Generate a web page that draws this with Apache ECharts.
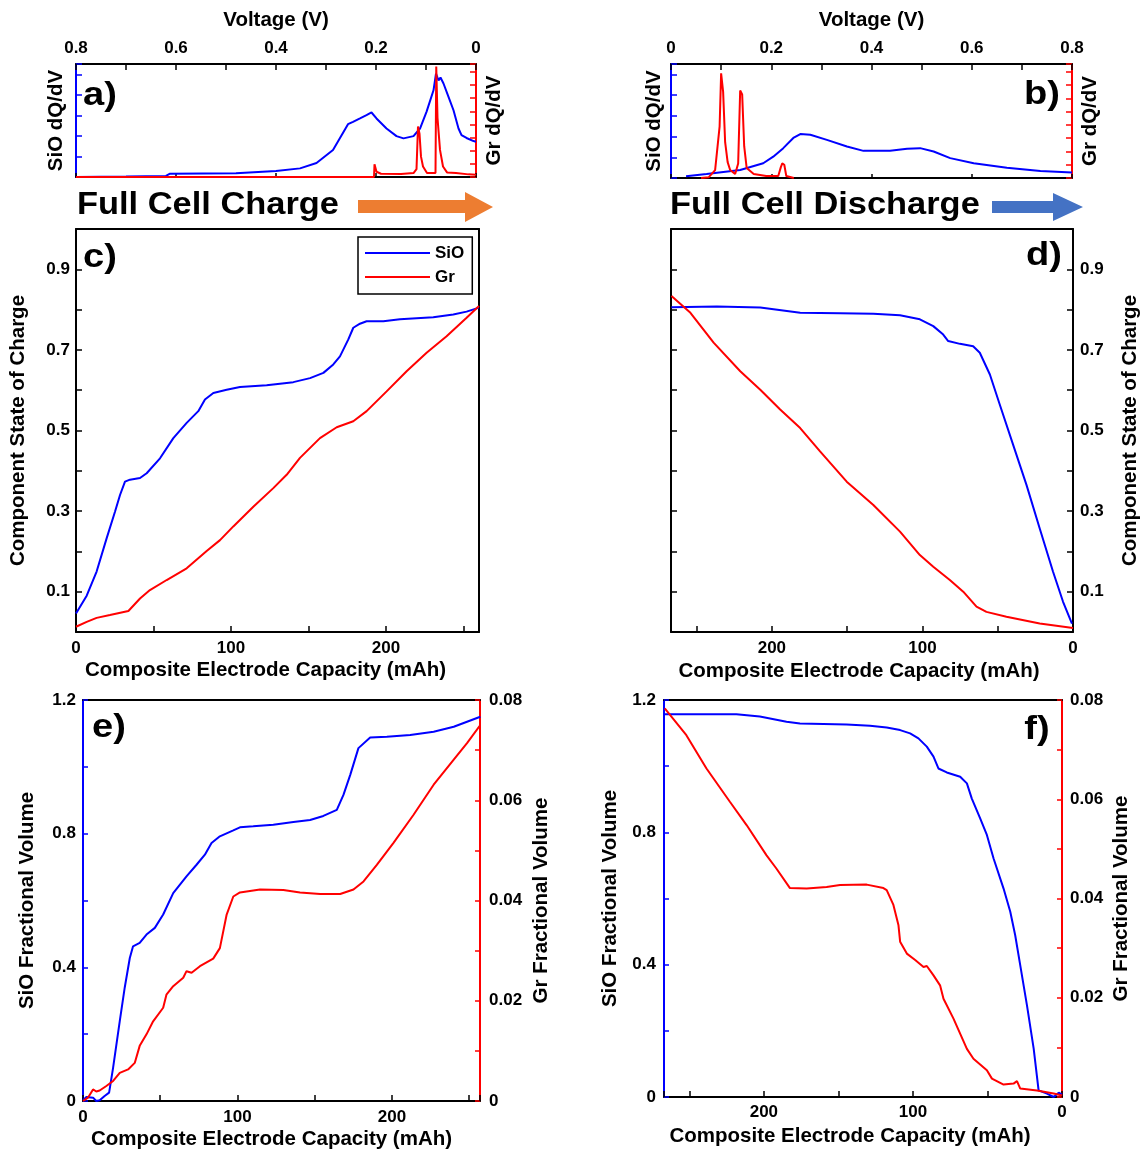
<!DOCTYPE html>
<html><head><meta charset="utf-8">
<script src="https://cdn.jsdelivr.net/npm/echarts/dist/echarts.min.js"></script>
<style>html,body{margin:0;padding:0;background:#fff}#chart{width:1142px;height:1151px}</style>
</head><body><div id="chart"></div>
<script>
// ---------- DATA ----------
// a) Full cell charge dQ/dV vs voltage
const chargeSioV   = [0.8,0.7,0.62,0.612,0.48,0.479,0.4,0.352,0.319,0.286,0.256,0.246,0.232,0.219,0.209,0.199,0.179,0.159,0.145,0.125,0.112,0.099,0.085,0.08,0.075,0.071,0.065,0.055,0.045,0.035,0.029,0.019,0.005,0];
const chargeSioDq  = [0,0.02,0.05,0.16,0.18,0.23,0.29,0.42,0.68,1.31,2.57,2.68,2.85,3.01,3.14,2.85,2.36,1.99,1.88,1.99,2.36,3.17,4.22,5.03,4.7,4.84,4.55,3.9,3.25,2.36,2.04,1.9,1.75,1.72];
const chargeGrV    = [0.8,0.204,0.203,0.199,0.19,0.15,0.125,0.119,0.116,0.113,0.11,0.106,0.098,0.081,0.0795,0.077,0.072,0.066,0.058,0.04,0.015,0];
const chargeGrDq   = [0,0,0.97,0.4,0.25,0.22,0.3,0.6,3.84,3.3,1.55,0.8,0.3,0.3,8.4,4.5,2.06,0.8,0.35,0.3,0.2,0.18];
// b) Full cell discharge dQ/dV vs voltage
const dischSioV    = [0.03,0.071,0.138,0.184,0.204,0.224,0.244,0.258,0.278,0.311,0.351,0.384,0.437,0.471,0.497,0.524,0.557,0.604,0.67,0.737,0.8];
const dischSioDq   = [0.08,0.19,0.39,0.71,1.03,1.44,1.93,2.12,2.09,1.84,1.52,1.31,1.31,1.41,1.44,1.28,0.96,0.71,0.5,0.34,0.26];
const dischGrV     = [0.06,0.075,0.088,0.097,0.1,0.104,0.108,0.113,0.118,0.128,0.134,0.138,0.142,0.146,0.151,0.165,0.19,0.214,0.219,0.222,0.226,0.23,0.245];
const dischGrDq    = [0,0.05,0.6,3.9,7.9,6.5,2.7,1.2,0.6,0.3,1.1,6.6,6.3,2.4,0.75,0.3,0.15,0.15,0.8,1.1,1.0,0.15,0];
// c) charge component SOC vs capacity
const cSioCap = [0,6.9,13.3,19.8,25.2,28.4,31.6,34.8,41.3,45.6,54.2,62.8,71.4,78.9,83.2,88.6,97.2,105.8,123,140.2,151,159.6,166,170.3,175.7,178.9,183.2,187.5,198.3,209,230.5,243.4,252,260];
const cSioSoc = [0.046,0.09,0.15,0.233,0.299,0.34,0.373,0.378,0.382,0.394,0.431,0.481,0.519,0.548,0.577,0.593,0.601,0.608,0.612,0.62,0.63,0.643,0.664,0.684,0.726,0.755,0.765,0.771,0.771,0.776,0.781,0.788,0.795,0.805];
const cGrCap  = [0,6.9,13.3,21.9,33.8,41.3,47.7,58.5,71.4,84.3,92.9,101.5,114.4,127.3,135.9,144.5,157.4,168.2,178.9,187.5,200.4,213.3,226.2,239.1,252,260];
const cGrSoc  = [0.013,0.025,0.035,0.042,0.052,0.083,0.104,0.129,0.158,0.201,0.228,0.262,0.311,0.357,0.39,0.432,0.481,0.508,0.523,0.548,0.597,0.647,0.693,0.734,0.78,0.809];
// d) discharge component SOC vs capacity
const dSioCap = [266.7,236.5,207.7,181.2,154.7,132.6,114.9,101.7,92.8,86.2,82.9,75.1,66.3,61.9,55.2,48.6,39.8,30.9,22.1,13.3,6.6,0.7];
const dSioSoc = [0.806,0.808,0.805,0.792,0.791,0.79,0.786,0.776,0.759,0.738,0.722,0.715,0.709,0.693,0.639,0.564,0.465,0.365,0.257,0.15,0.075,0.021];
const dGrCap  = [266.7,254.1,238.7,221,207.7,194.5,181.2,168,150.3,132.6,114.9,101.7,92.8,81.8,72.9,64.1,57.5,44.2,22.1,0];
const dGrSoc  = [0.834,0.792,0.718,0.647,0.601,0.552,0.506,0.448,0.373,0.315,0.249,0.191,0.162,0.129,0.1,0.063,0.05,0.038,0.021,0.01];
// e) charge fractional volume
const eSioCap = [0,2.2,6.5,8.6,10.8,14,16.9,19.5,23.8,27,30.3,32.4,36.7,41.1,46.5,51.9,58.4,67,73.5,78.9,83.2,88.6,97.3,101.6,110.2,123.2,136.2,147,155.6,164.3,168.6,173,178.3,185.9,196.7,211.8,227,240,248.6,257.2];
const eSioVol = [0.002,0.012,0.01,0,0.002,0.015,0.025,0.1,0.239,0.339,0.428,0.463,0.473,0.498,0.518,0.558,0.622,0.672,0.707,0.737,0.772,0.792,0.81,0.819,0.822,0.827,0.835,0.841,0.853,0.871,0.916,0.976,1.056,1.088,1.09,1.095,1.105,1.12,1.135,1.15];
const eGrCap  = [0,3.2,6.5,8.6,10.8,15.1,19.5,23.8,29.2,33.5,36.7,41.1,45.4,51.9,54,58.4,64.9,67,70.3,75.7,84.3,88.6,93,97.3,101.6,114.6,129.7,140.5,153.5,166.5,175.1,181.6,190.2,201,214,227,240,248.6,257.2];
const eGrVol  = [0,0.00066,0.0023,0.0019,0.0021,0.003,0.004,0.0056,0.0063,0.0076,0.011,0.0133,0.0159,0.0186,0.0212,0.0229,0.0246,0.0259,0.0256,0.0269,0.0284,0.0305,0.0372,0.0408,0.0416,0.0422,0.0421,0.0416,0.0413,0.0413,0.0422,0.0438,0.0471,0.0515,0.0571,0.0631,0.0681,0.0714,0.075];
// f) discharge fractional volume
const fSioCap = [266.5,218.4,202.7,184.8,175.8,144.5,128.8,117.6,108.6,101.9,96.3,90.7,86.2,82.9,77.3,68.3,63.8,60.5,54.9,50.4,45.9,39.2,34.7,31.4,28,23.5,19,15.7,10.1,5.6,2.2,0];
const fSioVol = [1.157,1.157,1.15,1.134,1.129,1.126,1.122,1.117,1.109,1.099,1.084,1.059,1.029,0.993,0.981,0.968,0.948,0.902,0.842,0.792,0.721,0.63,0.56,0.489,0.398,0.277,0.146,0.02,0.01,0,0.013,0.007];
const fGrCap  = [266.5,252,238.5,222.8,211.6,198.2,191.5,182.5,171.3,157.9,148.9,131,119.8,117.6,113.1,109.7,108.6,104.1,98.5,92.9,90.7,86.2,81.8,79.5,72.8,63.8,59.4,50.4,47,39.2,32.5,30.2,28,16.8,5.6,0];
const fGrVol  = [0.0783,0.0729,0.0662,0.0595,0.0548,0.0487,0.046,0.0421,0.042,0.0423,0.0427,0.0428,0.0421,0.0417,0.0387,0.0346,0.0313,0.0289,0.0276,0.0262,0.0264,0.0245,0.0225,0.0198,0.0158,0.0097,0.0077,0.0054,0.0037,0.0025,0.0027,0.0032,0.0017,0.0013,0.0007,0.0003];

const seriesNames = ['SiO', 'Gr'];
const panelLabels = ['a)', 'b)', 'c)', 'd)', 'e)', 'f)'];
const headerTexts = ['Full Cell Charge', 'Full Cell Discharge'];

// ---------- STYLE / BUILD ----------
const BLACK = '#000', BLUE = '#0000ff', RED = '#ff0000';
const FF = '"Liberation Sans", Arial, sans-serif';
const zip = (xs, ys) => xs.map((x, i) => [x, ys[i]]);

function ax(o) {
  const c = o.color || BLACK;
  return {
    type: 'value', gridIndex: o.grid, position: o.position,
    min: o.min, max: o.max, interval: o.interval, inverse: !!o.inverse,
    axisLine: { show: true, onZero: false, lineStyle: { color: c, width: 2 } },
    axisTick: { show: o.tick !== false, inside: true, length: o.tickLen || 6, lineStyle: { color: c, width: 1.5 } },
    axisLabel: { show: !!o.fmt, formatter: o.fmt, margin: o.margin || 7, fontSize: 17, fontFamily: FF, fontWeight: 'bold', color: BLACK, showMinLabel: true, showMaxLabel: true, hideOverlap: false },
    splitLine: { show: false },
    name: o.name || '', nameLocation: 'middle', nameGap: o.nameGap || 0, nameRotate: o.nameRotate,
    nameMoveOverlap: false,
    nameTextStyle: { fontSize: 20.5, fontFamily: FF, fontWeight: 'bold', color: BLACK, padding: o.namePad || 0 }
  };
}
const fmtEvenTenth = v => (Math.round(v * 10) % 2 === 0) ? (Math.abs(v) < 1e-9 ? '0' : v.toFixed(1)) : '';
const fmtOddTenth = v => (Math.round(v * 10) % 2 === 1) ? v.toFixed(1) : '';
const fmtHundred = v => (Math.round(v) % 100 === 0 && Math.abs(v - Math.round(v)) < 1e-6) ? String(Math.round(v)) : '';
const fmtSio = v => (Math.round(v * 10) % 4 === 0) ? (Math.abs(v) < 1e-9 ? '0' : v.toFixed(1)) : '';
const fmtGr = v => (Math.round(v * 100) % 2 === 0) ? (Math.abs(v) < 1e-9 ? '0' : v.toFixed(2)) : '';

const grids = [
  { left: 76, top: 64, width: 400, height: 113 },
  { left: 671, top: 64, width: 401, height: 114 },
  { left: 76, top: 229, width: 403, height: 403 },
  { left: 671, top: 229, width: 402, height: 403 },
  { left: 83, top: 700, width: 397, height: 401 },
  { left: 664, top: 700, width: 398, height: 397 }
].map(g => Object.assign({ containLabel: false, outerBoundsMode: 'none' }, g));

const xAxes = [
  ax({ grid: 0, position: 'top', min: 0, max: 0.8, interval: 0.1, inverse: true, fmt: fmtEvenTenth, margin: 7, tickLen: 6, name: 'Voltage (V)', nameGap: 33 }),
  ax({ grid: 0, position: 'bottom', min: 0, max: 0.8, interval: 0.2, inverse: true, tickLen: 4 }),
  ax({ grid: 1, position: 'top', min: 0, max: 0.8, interval: 0.1, fmt: fmtEvenTenth, margin: 7, tickLen: 6, name: 'Voltage (V)', nameGap: 33 }),
  ax({ grid: 1, position: 'bottom', min: 0, max: 0.8, interval: 0.2, tickLen: 4 }),
  ax({ grid: 2, position: 'bottom', min: 0, max: 260, interval: 50, fmt: fmtHundred, margin: 8, name: 'Composite Electrode Capacity (mAh)', nameGap: 28, namePad: [0, 24, 0, 0] }),
  ax({ grid: 2, position: 'top', min: 0, max: 260, tick: false }),
  ax({ grid: 3, position: 'bottom', min: 0, max: 267, interval: 50, inverse: true, fmt: fmtHundred, margin: 8, name: 'Composite Electrode Capacity (mAh)', nameGap: 29, namePad: [0, 26, 0, 0] }),
  ax({ grid: 3, position: 'top', min: 0, max: 267, inverse: true, tick: false }),
  ax({ grid: 4, position: 'bottom', min: 0, max: 257, interval: 50, fmt: fmtHundred, margin: 8, name: 'Composite Electrode Capacity (mAh)', nameGap: 28, namePad: [0, 20, 0, 0] }),
  ax({ grid: 4, position: 'top', min: 0, max: 257, tick: false }),
  ax({ grid: 5, position: 'bottom', min: 0, max: 267, interval: 50, inverse: true, fmt: fmtHundred, margin: 7, name: 'Composite Electrode Capacity (mAh)', nameGap: 29, namePad: [0, 26, 0, 0] }),
  ax({ grid: 5, position: 'top', min: 0, max: 267, inverse: true, tick: false })
];
const yAxes = [
  ax({ grid: 0, position: 'left', min: 0, max: 5.5, interval: 1, color: BLUE, name: 'SiO dQ/dV', nameGap: 9, nameRotate: 90 }),
  ax({ grid: 0, position: 'right', min: 0, max: 8.6, interval: 1, color: RED, name: 'Gr dQ/dV', nameGap: 8, nameRotate: 90 }),
  ax({ grid: 1, position: 'left', min: 0, max: 5.5, interval: 1, color: BLUE, name: 'SiO dQ/dV', nameGap: 6, nameRotate: 90 }),
  ax({ grid: 1, position: 'right', min: 0, max: 8.6, interval: 1, color: RED, name: 'Gr dQ/dV', nameGap: 8, nameRotate: 90 }),
  ax({ grid: 2, position: 'left', min: 0, max: 1, interval: 0.1, fmt: fmtOddTenth, margin: 6, name: 'Component State of Charge', nameGap: 47, nameRotate: 90 }),
  ax({ grid: 2, position: 'right', min: 0, max: 1, tick: false }),
  ax({ grid: 3, position: 'left', min: 0, max: 1, interval: 0.1 }),
  ax({ grid: 3, position: 'right', min: 0, max: 1, interval: 0.1, fmt: fmtOddTenth, margin: 7, name: 'Component State of Charge', nameGap: 47, nameRotate: 90 }),
  ax({ grid: 4, position: 'left', min: 0, max: 1.2, interval: 0.2, color: BLUE, tickLen: 5, fmt: fmtSio, margin: 7, name: 'SiO Fractional Volume', nameGap: 45, nameRotate: 90 }),
  ax({ grid: 4, position: 'right', min: 0, max: 0.08, interval: 0.01, color: RED, tickLen: 5, fmt: fmtGr, margin: 9, name: 'Gr Fractional Volume', nameGap: 51, nameRotate: 90 }),
  ax({ grid: 5, position: 'left', min: 0, max: 1.2, interval: 0.2, color: BLUE, tickLen: 5, fmt: fmtSio, margin: 8, name: 'SiO Fractional Volume', nameGap: 43, nameRotate: 90 }),
  ax({ grid: 5, position: 'right', min: 0, max: 0.08, interval: 0.01, color: RED, tickLen: 5, fmt: fmtGr, margin: 8, name: 'Gr Fractional Volume', nameGap: 49, nameRotate: 90 })
];

function line(name, data, xi, yi, color) {
  return {
    type: 'line', name, data, xAxisIndex: xi, yAxisIndex: yi,
    showSymbol: false, symbol: 'none', smooth: false, clip: true,
    lineStyle: { color, width: 2 }, itemStyle: { color }, emphasis: { disabled: true }
  };
}
const series = [
  line(seriesNames[0], zip(chargeSioV, chargeSioDq), 0, 0, BLUE),
  line(seriesNames[1], zip(chargeGrV, chargeGrDq), 0, 1, RED),
  line(seriesNames[0], zip(dischSioV, dischSioDq), 2, 2, BLUE),
  line(seriesNames[1], zip(dischGrV, dischGrDq), 2, 3, RED),
  line(seriesNames[0], zip(cSioCap, cSioSoc), 4, 4, BLUE),
  line(seriesNames[1], zip(cGrCap, cGrSoc), 4, 4, RED),
  line(seriesNames[0], zip(dSioCap, dSioSoc), 6, 7, BLUE),
  line(seriesNames[1], zip(dGrCap, dGrSoc), 6, 7, RED),
  line(seriesNames[0], zip(eSioCap, eSioVol), 8, 8, BLUE),
  line(seriesNames[1], zip(eGrCap, eGrVol), 8, 9, RED),
  line(seriesNames[0], zip(fSioCap, fSioVol), 10, 10, BLUE),
  line(seriesNames[1], zip(fGrCap, fGrVol), 10, 11, RED)
];

const labelPos = [[100, 96], [1042, 95], [100, 258], [1044, 256], [109, 728], [1037, 730]];
const graphics = panelLabels.map((t, i) => ({
  type: 'text', x: labelPos[i][0], y: labelPos[i][1], scaleX: 1.12, z: 100,
  style: { text: t, font: 'bold 34px ' + FF, fill: BLACK, align: 'center', verticalAlign: 'middle', textAlign: 'center', textVerticalAlign: 'middle' }
}));
graphics.push(
  { type: 'text', x: 77, y: 205, scaleX: 1.11, z: 100,
    style: { text: headerTexts[0], font: 'bold 31px ' + FF, fill: BLACK, align: 'left', verticalAlign: 'middle', textAlign: 'left', textVerticalAlign: 'middle' } },
  { type: 'text', x: 670, y: 205, scaleX: 1.11, z: 100,
    style: { text: headerTexts[1], font: 'bold 31px ' + FF, fill: BLACK, align: 'left', verticalAlign: 'middle', textAlign: 'left', textVerticalAlign: 'middle' } },
  { type: 'polygon', z: 100, shape: { points: [[358, 200], [465, 200], [465, 192], [493, 207], [465, 222], [465, 213], [358, 213]] }, style: { fill: '#ED7D31' } },
  { type: 'polygon', z: 100, shape: { points: [[992, 201], [1053, 201], [1053, 193], [1083, 207], [1053, 221], [1053, 213], [992, 213]] }, style: { fill: '#4472C4' } }
);

const chart = echarts.init(document.getElementById('chart'), null, { renderer: 'canvas' });
chart.setOption({
  animation: false,
  backgroundColor: '#fff',
  grid: grids,
  xAxis: xAxes,
  yAxis: yAxes,
  legend: {
    left: 358, top: 237, orient: 'vertical', data: seriesNames, icon: 'rect',
    itemWidth: 65, itemHeight: 2, itemGap: 4, padding: [6, 8, 7, 7],
    borderColor: BLACK, borderWidth: 1.5, backgroundColor: '#fff', selectedMode: false,
    textStyle: { fontSize: 17, fontFamily: FF, fontWeight: 'bold', color: BLACK, lineHeight: 20 }
  },
  series,
  graphic: graphics
});
</script></body></html>
